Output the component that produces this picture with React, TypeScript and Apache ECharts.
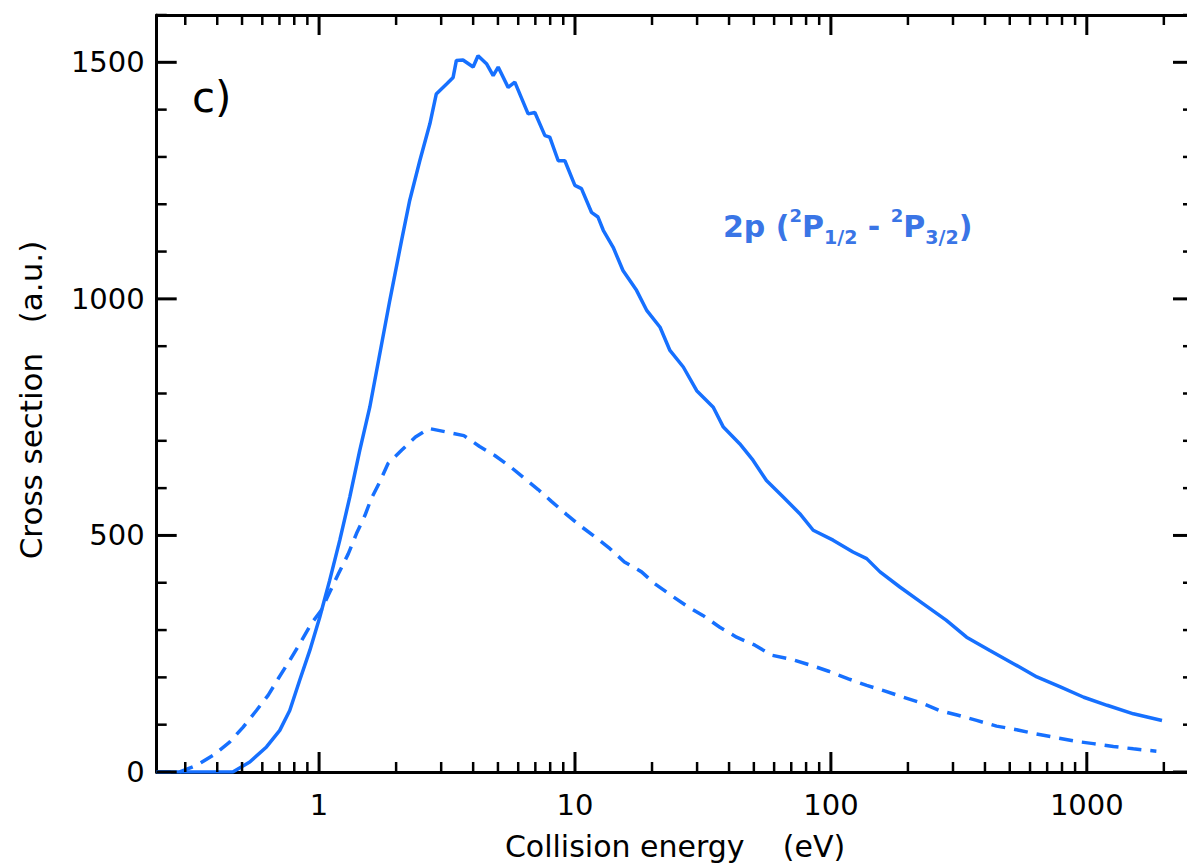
import React, { useEffect, useRef } from 'react';
import * as echarts from 'echarts';

// ---- data ----
const energySolid = [0.232, 0.46, 0.536, 0.623, 0.702, 0.768, 0.84, 0.92, 1.006, 1.1, 1.205, 1.318, 1.442, 1.578, 1.89, 2.1, 2.26, 2.475, 2.71, 2.87, 3.15, 3.34, 3.44, 3.65, 4.0, 4.18, 4.51, 4.79, 5.01, 5.48, 5.82, 6.56, 6.97, 7.63, 7.97, 8.6, 9.13, 9.99, 10.6, 11.6, 12.3, 12.9, 14.1, 15.4, 17.4, 19.1, 21.5, 23.5, 26.5, 29.9, 34.7, 38, 44, 49.6, 56, 65.1, 75.6, 85.3, 102, 122, 138, 155.6, 186, 229, 282, 339, 418, 517, 638, 788, 973, 1200, 1520, 1967];
const sigmaSolid = [0, 0, 21, 53, 88, 130, 194, 257, 327, 405, 490, 581, 680, 771, 997, 1123, 1208, 1292, 1370, 1433, 1454, 1468, 1504, 1505, 1490, 1514, 1497, 1472, 1490, 1447, 1458, 1391, 1394, 1345, 1342, 1292, 1292, 1240, 1233, 1183, 1173, 1145, 1109, 1060, 1018, 975, 940, 891, 856, 806, 771, 729, 694, 659, 616, 581, 546, 511, 490, 465, 451, 423, 391, 356, 321, 285, 257, 229, 201, 180, 158, 141, 123, 109];

const energyDashed = [0.232, 0.285, 0.332, 0.385, 0.447, 0.505, 0.569, 0.632, 0.692, 0.768, 0.84, 0.934, 1.02, 1.1, 1.19, 1.3, 1.4, 1.51, 1.6, 1.73, 1.86, 2.1, 2.38, 2.69, 3.19, 3.68, 4.24, 4.86, 5.57, 6.3, 7.18, 8.09, 9.28, 10.45, 12.1, 13.7, 15.6, 18.2, 20.5, 23.8, 27.7, 31.6, 36.8, 42.8, 50.5, 58.6, 70.2, 84.2, 98, 117, 138, 163, 192, 226, 266, 314, 371, 444, 525, 627, 752, 901, 1060, 1270, 1520, 1870];
const sigmaDashed = [0, 0, 14, 35, 63, 95, 130, 162, 197, 236, 271, 314, 342, 380, 419, 461, 504, 542, 578, 614, 652, 680, 708, 726, 718, 711, 688, 669, 646, 622, 597, 572, 544, 521, 495, 472, 444, 423, 398, 373, 349, 331, 306, 285, 268, 247, 238, 225, 213, 197, 183, 171, 158, 146, 130, 120, 109, 97, 90, 81, 73, 65, 60, 54, 49, 44];

const xMajorTicks = [1, 10, 100, 1000];
const xMinorTicks = [0.3, 0.4, 0.5, 0.6, 0.7, 0.8, 0.9, 2, 3, 4, 5, 6, 7, 8, 9, 20, 30, 40, 50, 60, 70, 80, 90, 200, 300, 400, 500, 600, 700, 800, 900, 2000];
const yMajorTicks = [0, 500, 1000, 1500];
const yMinorTicks = [100, 200, 300, 400, 600, 700, 800, 900, 1100, 1200, 1300, 1400, 1600];

const X_MIN = 0.232;
const X_MAX = 2600;
const Y_MIN = 0;
const Y_MAX = 1600;
const Y_STEP = 500;

const xTitle = 'Collision energy    (eV)';
const yTitle = 'Cross section   (a.u.)';
const panelLabel = 'c)';

const LINE_BLUE = '#1670ff';
const TEXT_BLUE = '#3a75e6';
const FONT = 'DejaVu Sans';
const MAJOR_LEN = 20;
const MINOR_LEN = 10;
const MAJOR_W = 3;
const MINOR_W = 2.5;

export default function App() {
  const ref = useRef<HTMLDivElement>(null);

  useEffect(() => {
    if (!ref.current) return;
    const chart = echarts.init(ref.current, null, { renderer: 'svg' });

    const axisLine = { show: true, onZero: false, lineStyle: { color: '#000', width: 3 } };
    const labelStyle = { color: '#000', fontFamily: FONT, fontSize: 29 };
    const xBase = { type: 'log', logBase: 10, min: X_MIN, max: X_MAX, splitLine: { show: false }, axisTick: { show: false } };
    const yBase = { type: 'value', min: Y_MIN, max: Y_MAX, interval: Y_STEP, splitLine: { show: false }, axisTick: { show: false } };

    const xLabel = (v: number) => (xMajorTicks.some((m) => Math.abs(m - v) < 1e-6 * m) ? String(Math.round(v)) : '');
    const yLabel = (v: number) => (yMajorTicks.indexOf(v) >= 0 ? String(v) : '');

    chart.setOption({
      animation: false,
      grid: { left: 156.7, right: 7, top: 15, bottom: 96, outerBoundsMode: 'none' },
      xAxis: [
        { ...xBase, position: 'bottom', axisLine, axisLabel: { ...labelStyle, margin: 18, formatter: xLabel } },
        { ...xBase, position: 'top', axisLine, axisLabel: { show: false } },
      ],
      yAxis: [
        { ...yBase, position: 'left', axisLine, axisLabel: { ...labelStyle, margin: 12, formatter: yLabel } },
        { ...yBase, position: 'right', axisLine, axisLabel: { show: false } },
      ],
      series: [
        {
          type: 'line',
          showSymbol: false,
          symbol: 'none',
          lineStyle: { color: LINE_BLUE, width: 3.5 },
          data: energySolid.map((e, i) => [e, sigmaSolid[i]]),
        },
        {
          type: 'line',
          showSymbol: false,
          symbol: 'none',
          lineStyle: { color: LINE_BLUE, width: 3.5, type: [14, 9] },
          data: energyDashed.map((e, i) => [e, sigmaDashed[i]]),
        },
      ],
    });

    // tick marks placed through the chart's own scales
    const px = (v: number) => chart.convertToPixel({ xAxisIndex: 0 }, v) as number;
    const py = (v: number) => chart.convertToPixel({ yAxisIndex: 0 }, v) as number;
    const left = px(X_MIN);
    const right = px(X_MAX);
    const bottom = py(Y_MIN);
    const top = py(Y_MAX);

    const tickEls: any[] = [];
    const addX = (v: number, len: number, w: number) => {
      const x = px(v);
      tickEls.push({ type: 'line', z: 100, shape: { x1: x, y1: bottom, x2: x, y2: bottom - len }, style: { stroke: '#000', lineWidth: w } });
      tickEls.push({ type: 'line', z: 100, shape: { x1: x, y1: top, x2: x, y2: top + len }, style: { stroke: '#000', lineWidth: w } });
    };
    const addY = (v: number, len: number, w: number) => {
      const y = py(v);
      tickEls.push({ type: 'line', z: 100, shape: { x1: left, y1: y, x2: left + len, y2: y }, style: { stroke: '#000', lineWidth: w } });
      tickEls.push({ type: 'line', z: 100, shape: { x1: right, y1: y, x2: right - len, y2: y }, style: { stroke: '#000', lineWidth: w } });
    };
    xMajorTicks.forEach((v) => addX(v, MAJOR_LEN, MAJOR_W));
    xMinorTicks.forEach((v) => addX(v, MINOR_LEN, MINOR_W));
    yMajorTicks.forEach((v) => addY(v, MAJOR_LEN, MAJOR_W));
    yMinorTicks.forEach((v) => addY(v, MINOR_LEN, MINOR_W));

    chart.setOption({
      graphic: [
        ...tickEls,
        {
          type: 'text',
          x: 192,
          y: 97,
          style: { text: panelLabel, fontFamily: FONT, fontSize: 42, fill: '#000', textAlign: 'left', textVerticalAlign: 'middle' },
        },
        {
          type: 'text',
          x: 675,
          y: 846,
          style: { text: xTitle, fontFamily: FONT, fontSize: 30, fill: '#000', textAlign: 'center', textVerticalAlign: 'middle' },
        },
        {
          type: 'text',
          x: 31,
          y: 400,
          rotation: Math.PI / 2,
          style: { text: yTitle, fontFamily: FONT, fontSize: 31, fill: '#000', textAlign: 'center', textVerticalAlign: 'middle' },
        },
        {
          type: 'text',
          x: 723,
          y: 226,
          style: {
            text: '2p ({sup|2}P{sub|1/2} - {sup|2}P{sub|3/2})',
            fontFamily: FONT,
            fontSize: 30,
            fontWeight: 'bold',
            fill: TEXT_BLUE,
            lineHeight: 40,
            textAlign: 'left',
            textVerticalAlign: 'middle',
            rich: {
              sup: { fontFamily: FONT, fontSize: 18, fontWeight: 'bold', fill: TEXT_BLUE, lineHeight: 18, verticalAlign: 'top' },
              sub: { fontFamily: FONT, fontSize: 19, fontWeight: 'bold', fill: TEXT_BLUE, lineHeight: 19, verticalAlign: 'bottom' },
            },
          },
        },
      ],
    });

    return () => chart.dispose();
  }, []);

  return <div ref={ref} style={{ position: 'fixed', left: 0, top: 0, width: 1200, height: 868, background: '#fff' }} />;
}
